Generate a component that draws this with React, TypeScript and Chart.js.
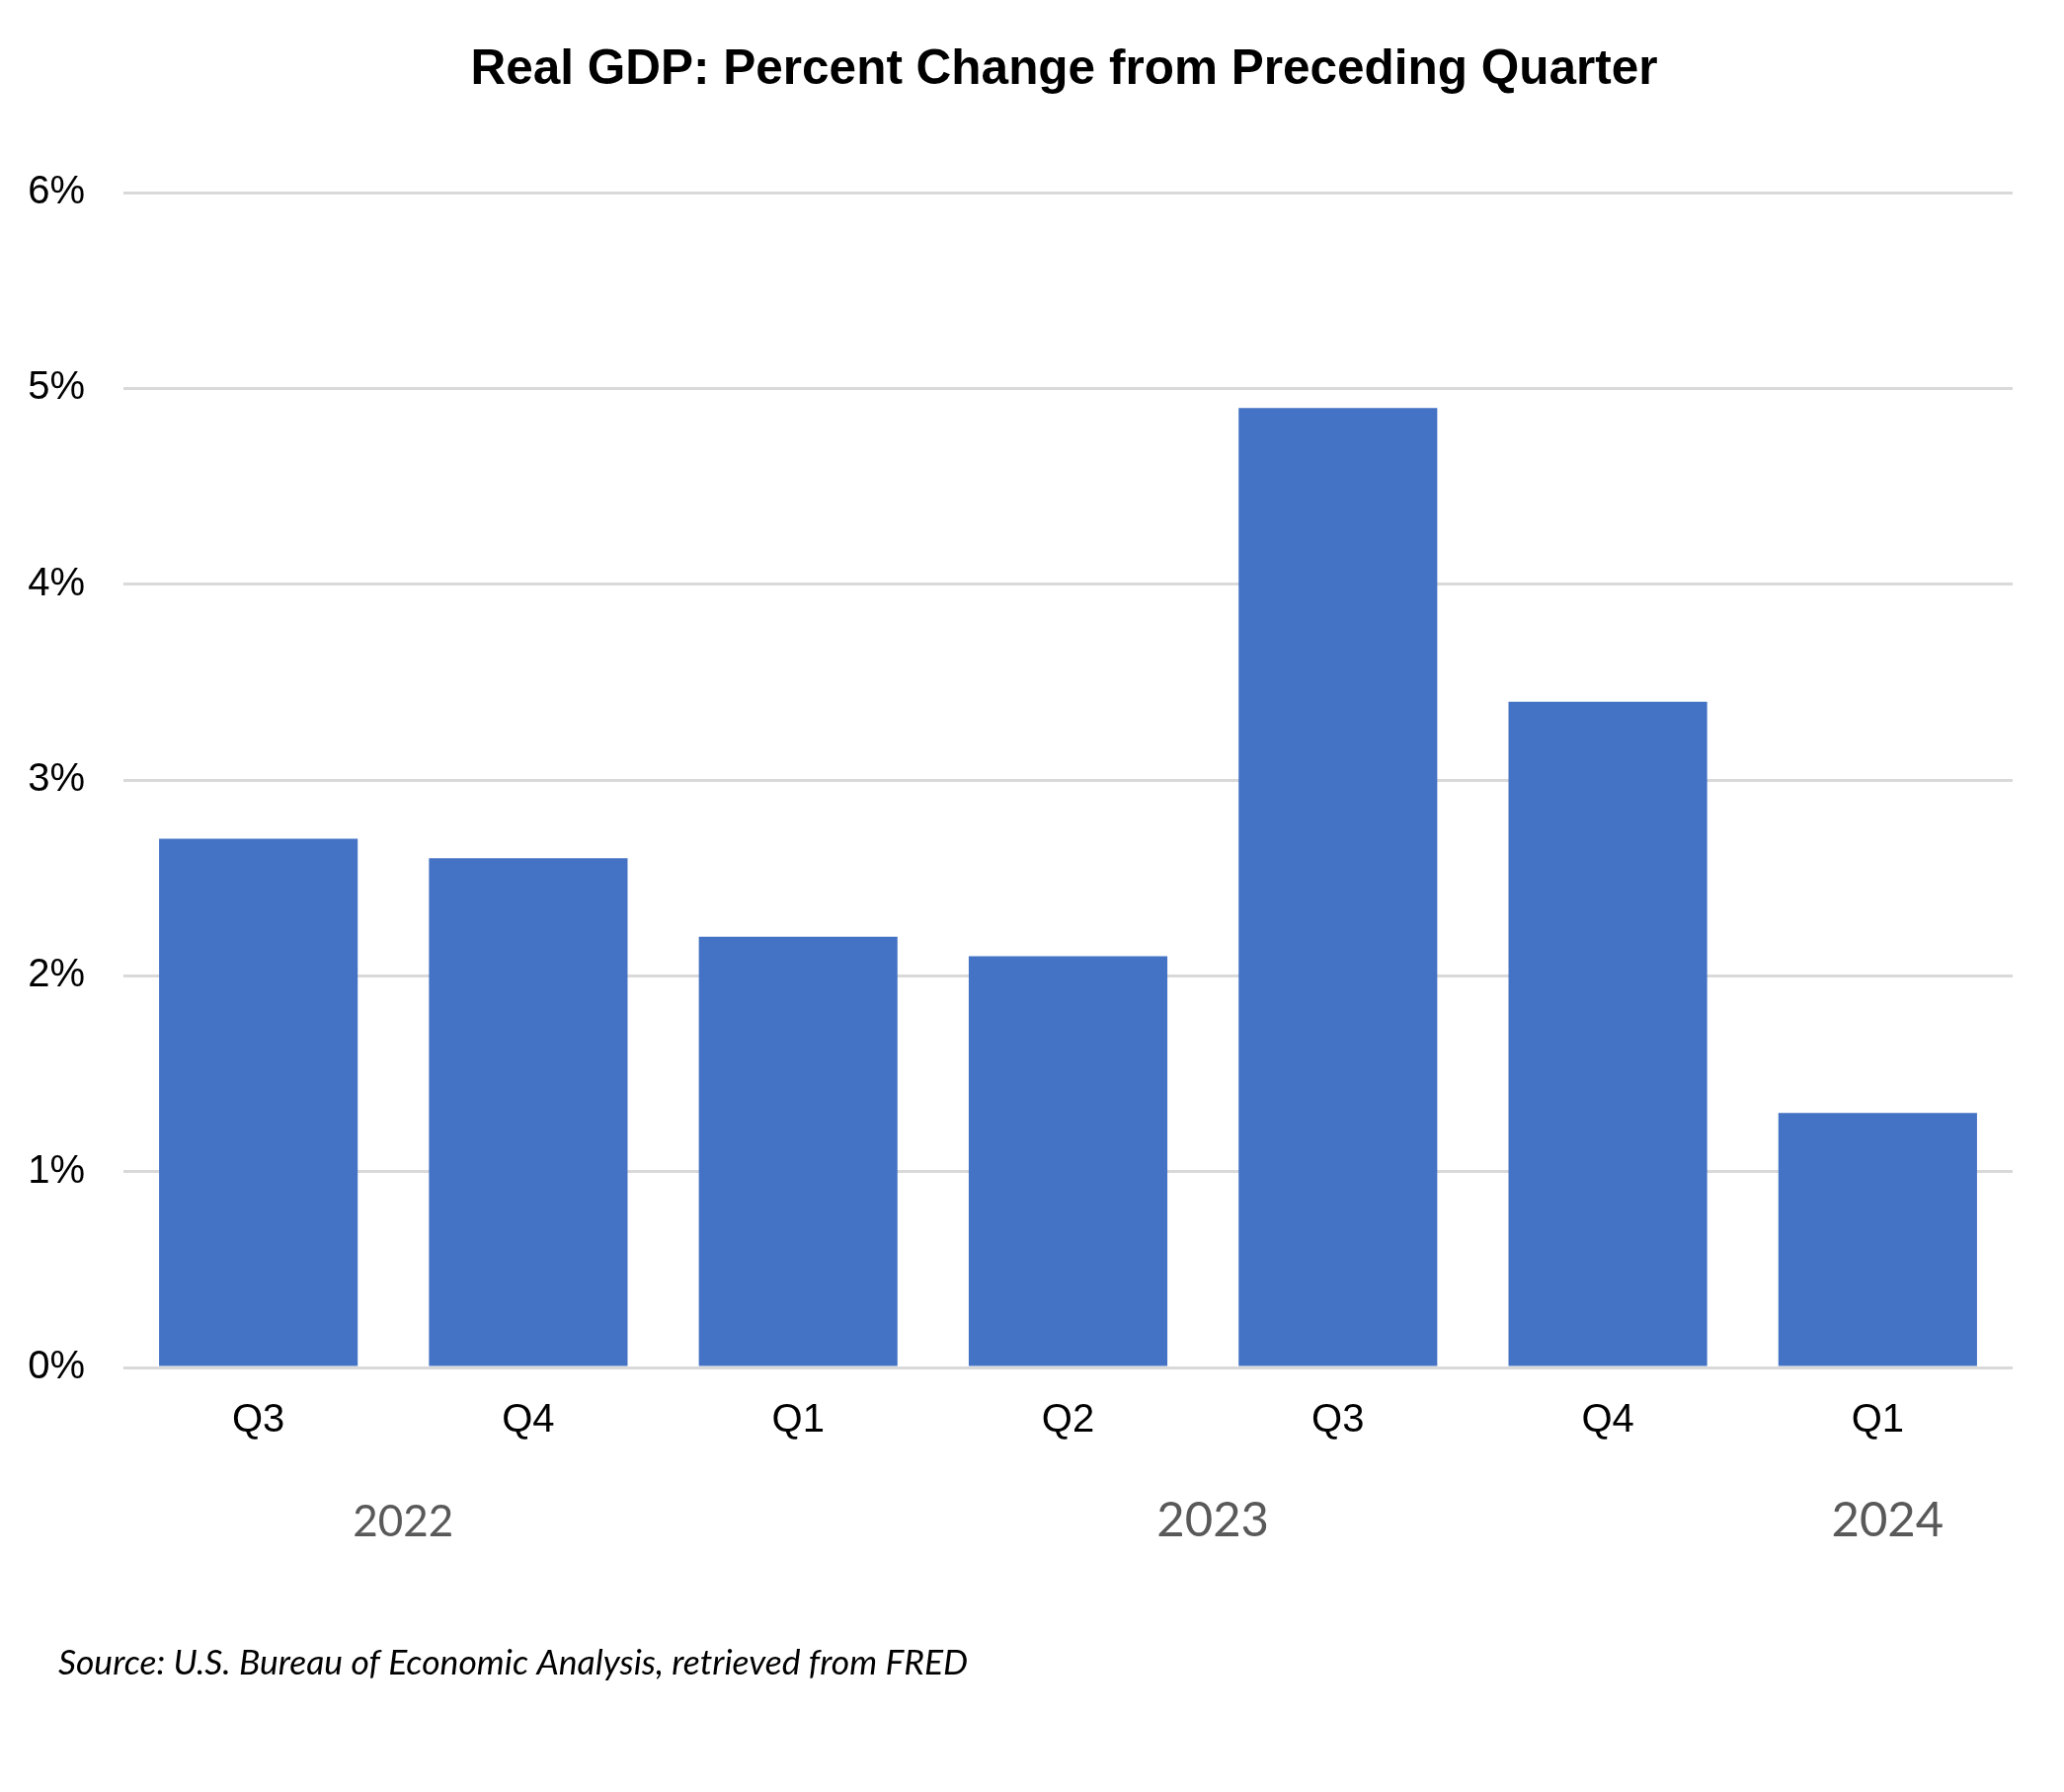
import React, { useEffect, useRef } from "react";
import { Chart, registerables } from "chart.js";

Chart.register(...registerables);

const quarters = ["Q3", "Q4", "Q1", "Q2", "Q3", "Q4", "Q1"];
const quarterYears = ["2022", "2022", "2023", "2023", "2023", "2023", "2024"];
const gdpChange = [2.7, 2.6, 2.2, 2.1, 4.9, 3.4, 1.3];
const yTicks = [0, 1, 2, 3, 4, 5, 6];

const titleText = "Real GDP: Percent Change from Preceding Quarter";
const sourceText = "Source: U.S. Bureau of Economic Analysis, retrieved from FRED";

const W = 2074;
const H = 1799;

const extrasPlugin = {
  id: "extras",
  afterDraw(chart: any) {
    const ctx = chart.ctx;
    const area = chart.chartArea;
    const xs = chart.scales.x;
    ctx.save();
    // title
    ctx.fillStyle = "#000000";
    ctx.font = 'bold 49.5px "Liberation Sans", Arial, sans-serif';
    ctx.textAlign = "center";
    ctx.textBaseline = "alphabetic";
    ctx.fillText(titleText, (area.left + area.right) / 2 - 4, 77);
    // year group labels
    const groups: { year: string; first: number; last: number }[] = [];
    quarterYears.forEach((y, i) => {
      const g = groups[groups.length - 1];
      if (g && g.year === y) g.last = i;
      else groups.push({ year: y, first: i, last: i });
    });
    ctx.fillStyle = "#595959";
    groups.forEach((g, gi) => {
      const size = gi === 0 ? 44 : 49;
      ctx.font = size + 'px Lato, "Open Sans", sans-serif';
      const cx = (xs.getPixelForValue(g.first) + xs.getPixelForValue(g.last)) / 2 + 10;
      ctx.fillText(g.year, cx, 1548);
    });
    // source
    ctx.fillStyle = "#000000";
    ctx.font = 'italic 35.5px Lato, "Open Sans", sans-serif';
    ctx.textAlign = "left";
    ctx.fillText(sourceText, 51, 1688);
    ctx.restore();
  },
};

export default function App() {
  const ref = useRef<HTMLCanvasElement | null>(null);
  useEffect(() => {
    if (!ref.current) return;
    const chart = new Chart(ref.current, {
      type: "bar",
      data: {
        labels: quarters,
        datasets: [
          {
            label: "Real GDP",
            data: gdpChange,
            backgroundColor: "#4472C4",
            borderWidth: 0,
            categoryPercentage: 1,
            barPercentage: 0.736,
          },
        ],
      },
      options: {
        responsive: false,
        animation: false,
        devicePixelRatio: 1,
        layout: { padding: { left: 0, right: 44, top: 187, bottom: 0 } },
        plugins: {
          legend: { display: false },
          title: { display: false },
          tooltip: { enabled: false },
        },
        scales: {
          x: {
            grid: { display: false },
            border: { display: false },
            ticks: {
              color: "#000000",
              font: { family: '"Liberation Sans", Arial, sans-serif', size: 40 },
              padding: 22,
              maxRotation: 0,
            },
            afterFit: (s: any) => {
              s.height = H - 1377;
            },
          },
          y: {
            min: 0,
            max: 6,
            afterBuildTicks: (s: any) => {
              s.ticks = yTicks.map((v) => ({ value: v }));
            },
            grid: { color: "#d9d9d9", lineWidth: 3, drawTicks: false },
            border: { display: false },
            ticks: {
              color: "#000000",
              font: { family: '"Liberation Sans", Arial, sans-serif', size: 40 },
              padding: 39,
              callback: (v: any) => v + "%",
            },
            afterFit: (s: any) => {
              s.width = 117;
            },
          },
        },
      },
      plugins: [extrasPlugin],
    });
    return () => chart.destroy();
  }, []);
  return (
    <div style={{ width: W, height: H, background: "#ffffff" }}>
      <canvas ref={ref} width={W} height={H} style={{ display: "block", width: W, height: H }} />
    </div>
  );
}
